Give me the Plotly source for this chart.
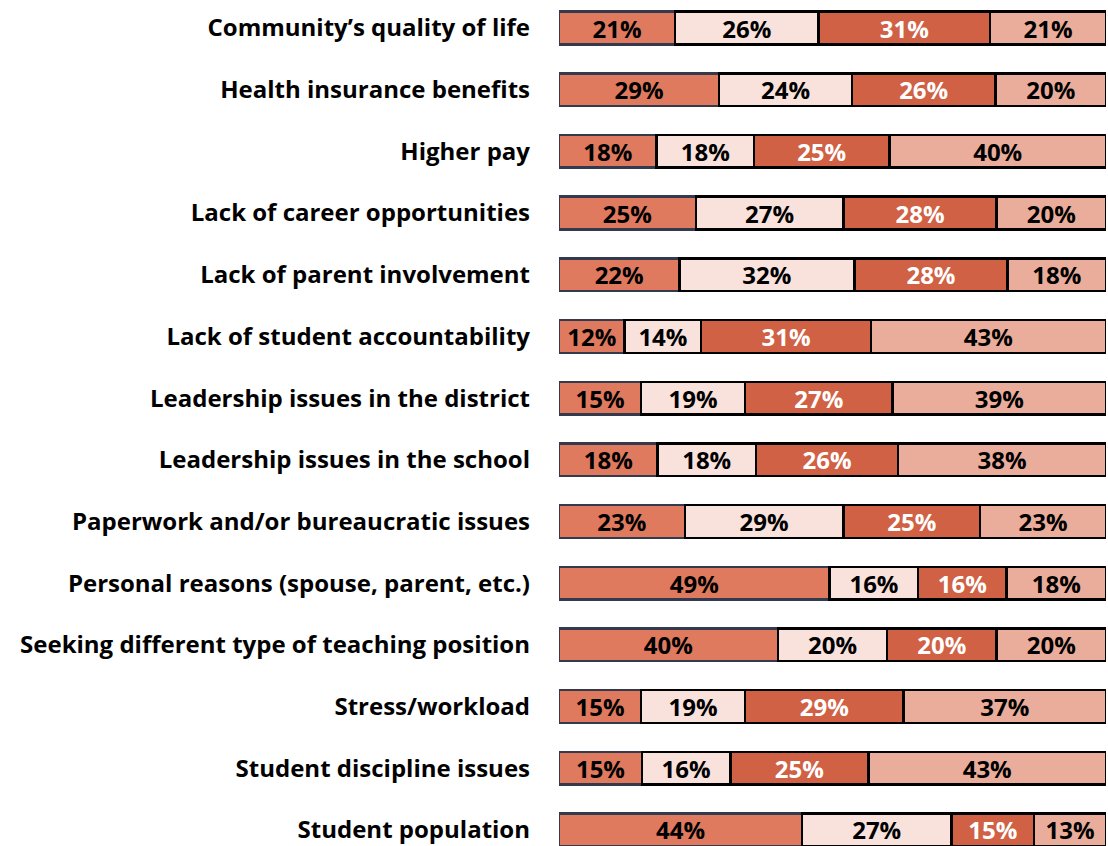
import plotly.graph_objects as go

reasons = [
    "Community’s quality of life",
    "Health insurance benefits",
    "Higher pay",
    "Lack of career opportunities",
    "Lack of parent involvement",
    "Lack of student accountability",
    "Leadership issues in the district",
    "Leadership issues in the school",
    "Paperwork and/or bureaucratic issues",
    "Personal reasons (spouse, parent, etc.)",
    "Seeking different type of teaching position",
    "Stress/workload",
    "Student discipline issues",
    "Student population",
]

seg1 = [21, 29, 18, 25, 22, 12, 15, 18, 23, 49, 40, 15, 15, 44]
seg2 = [26, 24, 18, 27, 32, 14, 19, 18, 29, 16, 20, 19, 16, 27]
seg3 = [31, 26, 25, 28, 28, 31, 27, 26, 25, 16, 20, 29, 25, 15]
seg4 = [21, 20, 40, 20, 18, 43, 39, 38, 23, 18, 20, 37, 43, 13]

series = [
    (seg1, "#E07A5F", "#343A4E", "black"),
    (seg2, "#F9E2DC", "black", "black"),
    (seg3, "#D06144", "black", "white"),
    (seg4, "#EBAD9B", "black", "black"),
]

fig = go.Figure()
for vals, fill, edge, txt in series:
    fig.add_trace(go.Bar(
        y=list(range(len(reasons))), x=vals, orientation="h",
        marker=dict(color=fill, line=dict(color=edge, width=2.5)),
        text=[f"{v}%" for v in vals], texttemplate="%{text}",
        textposition="inside", insidetextanchor="middle",
        textfont=dict(family="Open Sans", size=24, color=txt, weight="bold"),
        width=0.53, showlegend=False,
    ))

fig.update_layout(
    barmode="stack", barnorm="percent",
    width=1108, height=846,
    margin=dict(l=559, r=2, t=0, b=0),
    plot_bgcolor="white", paper_bgcolor="white",
    uniformtext=dict(minsize=24, mode="show"),
)
fig.update_xaxes(range=[0, 100], visible=False)
fig.update_yaxes(
    tickmode="array", tickvals=list(range(len(reasons))), ticktext=reasons,
    range=[13.26, -0.454], showgrid=False, zeroline=False, showline=False,
    ticks="", ticklabelstandoff=28,
    tickfont=dict(family="Open Sans", size=24, color="black", weight="bold"),
)

fig.write_html("out.html", config={"displayModeBar": False},
               post_script="document.body.style.margin='0';document.body.style.overflow='hidden';")
